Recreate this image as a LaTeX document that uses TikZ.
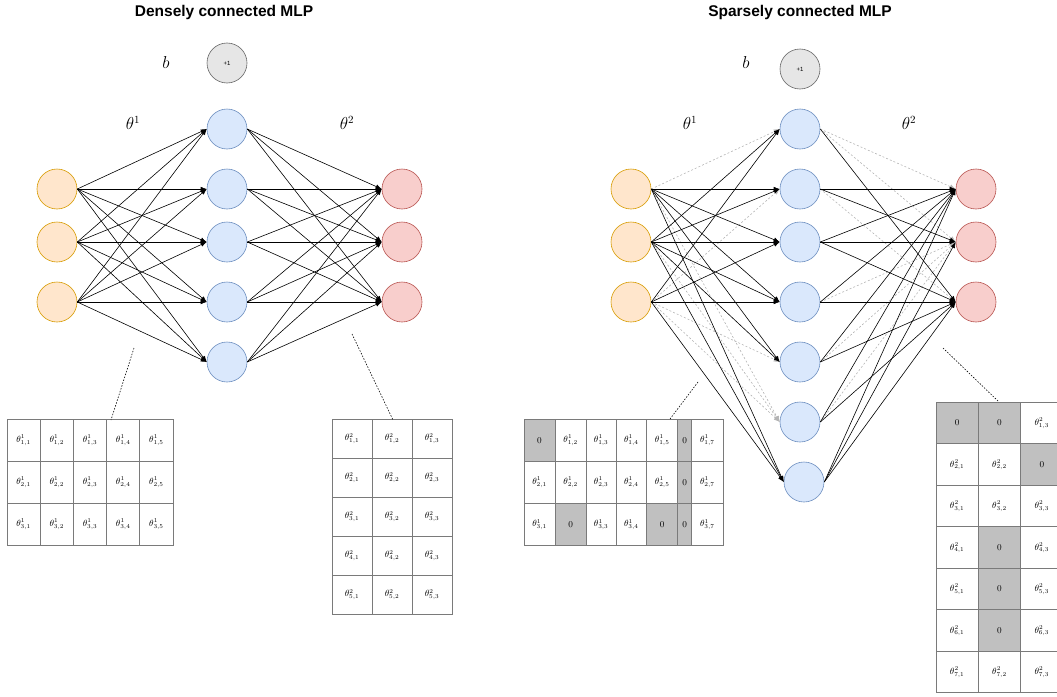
\documentclass[tikz,border=0pt]{standalone}
\usepackage{fontspec}
\usepackage{amsmath}
\usepackage{tikz}
\usetikzlibrary{arrows.meta}
\newfontfamily\headfont{Liberation Sans}

\definecolor{inFill}{HTML}{FFE6CC}
\definecolor{inLine}{HTML}{D79B00}
\definecolor{hidFill}{HTML}{DAE8FC}
\definecolor{hidLine}{HTML}{6C8EBF}
\definecolor{outFill}{HTML}{F8CECC}
\definecolor{outLine}{HTML}{B85450}
\definecolor{biasFill}{HTML}{E6E6E6}
\definecolor{biasLine}{HTML}{666666}
\definecolor{zeroFill}{HTML}{C0C0C0}
\definecolor{cellLine}{HTML}{7A7A7A}
\definecolor{offLine}{HTML}{B4B4B4}

\tikzset{
  neuron/.style={circle, minimum size=40pt, inner sep=0pt, line width=0.6pt},
  inneuron/.style={neuron, fill=inFill, draw=inLine},
  hidneuron/.style={neuron, fill=hidFill, draw=hidLine},
  outneuron/.style={neuron, fill=outFill, draw=outLine},
  biasneuron/.style={neuron, fill=biasFill, draw=biasLine, font=\headfont\fontsize{6}{7}\selectfont},
  conn/.style={line width=0.6pt, -{Latex[length=6pt,width=4.5pt]}},
  offconn/.style={conn, draw=offLine, dash pattern=on 2pt off 2pt},
  leader/.style={line width=0.6pt, dash pattern=on 1.5pt off 1.5pt},
  cell/.style={draw=cellLine, line width=0.8pt, inner sep=0pt, font=\fontsize{9}{10}\selectfont},
  zerocell/.style={cell, fill=zeroFill},
  heading/.style={font=\headfont\bfseries\fontsize{15.5}{18}\selectfont},
  layerlabel/.style={font=\fontsize{16}{18}\selectfont}
}

\begin{document}
\begin{tikzpicture}[x=1pt, y=-1pt]
  \useasboundingbox (0,0) rectangle (1057,696);
  \clip (0,0) rectangle (1057,696);

  % ---------------- densely connected ----------------
  \node[heading] (dTitle) at (224,12) {Densely connected MLP};
  \node[biasneuron] (dB) at (227,63) {+1};
  \node[layerlabel] (dBlab) at (166,62) {$b$};
  \node[layerlabel] (dT1) at (133,123) {$\theta^1$};
  \node[layerlabel] (dT2) at (347,123) {$\theta^2$};

  \foreach \i/\y in {1/189, 2/242, 3/302}
    \node[inneuron] (dI\i) at (57,\y) {};
  \foreach \j/\y in {1/129, 2/189, 3/242, 4/302, 5/362}
    \node[hidneuron] (dH\j) at (227,\y) {};
  \foreach \k/\y in {1/189, 2/242, 3/302}
    \node[outneuron] (dO\k) at (402,\y) {};

  \foreach \i in {1,2,3}
    \foreach \j in {1,...,5}
      \draw[conn] (dI\i.east) -- (dH\j.west);
  \foreach \j in {1,...,5}
    \foreach \k in {1,2,3}
      \draw[conn] (dH\j.east) -- (dO\k.west);

  % weight matrices
  \foreach \r in {1,2,3}
    \foreach \c in {1,...,5}
      \node[cell, minimum width=33.2pt, minimum height=42pt] (dA-\r-\c)
        at ({7+(\c-0.5)*33.2},{419+(\r-0.5)*42}) {$\theta^1_{\r,\c}$};
  \foreach \r in {1,...,5}
    \foreach \c in {1,2,3}
      \node[cell, minimum width=40pt, minimum height=39pt] (dB-\r-\c)
        at ({332+(\c-0.5)*40},{419+(\r-0.5)*39}) {$\theta^2_{\r,\c}$};

  \coordinate (dL1a) at (134,348);
  \coordinate (dL1b) at (111,420);
  \coordinate (dL2a) at (352,334);
  \coordinate (dL2b) at (393,420);
  \draw[leader] (dL1a) -- (dL1b);
  \draw[leader] (dL2a) -- (dL2b);

  % ---------------- sparsely connected ----------------
  \node[heading] (sTitle) at (800,12) {Sparsely connected MLP};
  \node[biasneuron] (sB) at (800,69) {+1};
  \node[layerlabel] (sBlab) at (746,62) {$b$};
  \node[layerlabel] (sT1) at (690,123) {$\theta^1$};
  \node[layerlabel] (sT2) at (909,123) {$\theta^2$};

  \foreach \i/\y in {1/189, 2/242, 3/302}
    \node[inneuron] (sI\i) at (631,\y) {};
  \foreach \j/\x/\y in {1/800/129, 2/800/189, 3/800/242, 4/800/302, 5/800/362, 6/800/422, 7/804/482}
    \node[hidneuron] (sH\j) at (\x,\y) {};
  \foreach \k/\y in {1/189, 2/242, 3/302}
    \node[outneuron] (sO\k) at (976,\y) {};

  % pruned weights (zeros) first, kept weights on top
  \foreach \i/\j in {1/1, 1/6, 2/6, 3/2, 3/5, 3/6}
    \draw[offconn] (sI\i.east) -- (sH\j.west);
  \foreach \j/\k in {1/1, 1/2, 2/3, 4/2, 5/2, 6/2}
    \draw[offconn] (sH\j.east) -- (sO\k.west);
  \foreach \i/\j in {1/2, 1/3, 1/4, 1/5, 1/7,
                     2/1, 2/2, 2/3, 2/4, 2/5, 2/7,
                     3/1, 3/3, 3/4, 3/7}
    \draw[conn] (sI\i.east) -- (sH\j.west);
  \foreach \j/\k in {1/3, 2/1, 2/2, 3/1, 3/2, 3/3, 4/1, 4/3,
                     5/1, 5/3, 6/1, 6/3, 7/1, 7/2, 7/3}
    \draw[conn] (sH\j.east) -- (sO\k.west);

  % zero entries of the sparse matrices
  \foreach \r/\c in {1/1, 1/6, 2/6, 3/2, 3/5, 3/6}
    {\expandafter\gdef\csname zeroA\r-\c\endcsname{}}
  \foreach \r/\c in {1/1, 1/2, 2/3, 4/2, 5/2, 6/2}
    {\expandafter\gdef\csname zeroB\r-\c\endcsname{}}

  \foreach \r in {1,2,3}
    \foreach \c/\xl/\w in {1/524/31, 2/555/31.3, 3/586.3/29.7, 4/616/30.7,
                          5/646.7/31, 6/677.7/14, 7/691.7/31.3} {
      \ifcsname zeroA\r-\c\endcsname
        \node[zerocell, minimum width=\w pt, minimum height=42.2pt] (sA-\r-\c)
          at ({\xl+\w/2},{419+(\r-0.5)*42.2}) {$0$};
      \else
        \node[cell, minimum width=\w pt, minimum height=42.2pt] (sA-\r-\c)
          at ({\xl+\w/2},{419+(\r-0.5)*42.2}) {$\theta^1_{\r,\c}$};
      \fi
    }
  \foreach \r in {1,...,7}
    \foreach \c/\xl in {1/936, 2/978.3, 3/1020.7} {
      \ifcsname zeroB\r-\c\endcsname
        \node[zerocell, minimum width=42.3pt, minimum height=41.5pt] (sB-\r-\c)
          at ({\xl+21.15},{402.3+(\r-0.5)*41.5}) {$0$};
      \else
        \node[cell, minimum width=42.3pt, minimum height=41.5pt] (sB-\r-\c)
          at ({\xl+21.15},{402.3+(\r-0.5)*41.5}) {$\theta^2_{\r,\c}$};
      \fi
    }

  \coordinate (sL1a) at (698,382);
  \coordinate (sL1b) at (670,419);
  \coordinate (sL2a) at (943,348);
  \coordinate (sL2b) at (999,402);
  \draw[leader] (sL1a) -- (sL1b);
  \draw[leader] (sL2a) -- (sL2b);
\end{tikzpicture}
\end{document}
